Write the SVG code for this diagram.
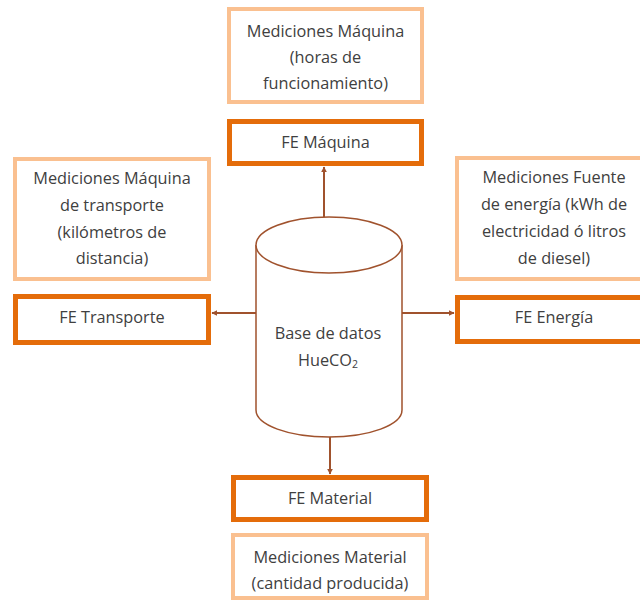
<svg xmlns="http://www.w3.org/2000/svg" width="640" height="601" viewBox="0 0 640 601">
<style>
.light{fill:#fff;stroke:#fac090;stroke-width:4}
.dark{fill:#fff;stroke:#e46c0a;stroke-width:5}
text{font-family:"Open Sans","Noto Sans",sans-serif;font-size:16.3px;fill:#404040;text-anchor:middle;dominant-baseline:central}
.conn{stroke:#a0522d;stroke-width:2;fill:none}
.cyl{fill:#fff;stroke:#a0522d;stroke-width:1.5}
</style>
<defs>
<marker id="arr" viewBox="0 0 10 10" refX="9" refY="5" markerWidth="6" markerHeight="6" orient="auto" markerUnits="userSpaceOnUse">
<path d="M0,0 L10,5 L0,10 z" fill="#a0522d"/>
</marker>
</defs>
<rect width="640" height="601" fill="#fff"/>
<g id="connectors">
<line class="conn" x1="324" y1="218" x2="324" y2="167" marker-end="url(#arr)"/>
<line class="conn" x1="256" y1="313" x2="212" y2="313" marker-end="url(#arr)"/>
<line class="conn" x1="402" y1="313" x2="454" y2="313" marker-end="url(#arr)"/>
<line class="conn" x1="330" y1="437" x2="330" y2="474" marker-end="url(#arr)"/>
</g>
<g id="med-maquina">
<rect class="light" x="229" y="9" width="193" height="93"/>
<text x="325.5" y="31">Mediciones Máquina</text>
<text x="325.5" y="57">(horas de</text>
<text x="325.5" y="83">funcionamiento)</text>
</g>
<g id="fe-maquina">
<rect class="dark" x="229.5" y="121.5" width="192" height="42"/>
<text x="325.5" y="142">FE Máquina</text>
</g>
<g id="med-transporte">
<rect class="light" x="15" y="159" width="194" height="120"/>
<text x="112" y="178">Mediciones Máquina</text>
<text x="112" y="205">de transporte</text>
<text x="112" y="232">(kilómetros de</text>
<text x="112" y="258">distancia)</text>
</g>
<g id="fe-transporte">
<rect class="dark" x="15.5" y="296.5" width="193" height="46"/>
<text x="112" y="317">FE Transporte</text>
</g>
<g id="med-energia">
<rect class="light" x="457" y="158" width="194" height="121"/>
<text x="554" y="177">Mediciones Fuente</text>
<text x="554" y="204">de energía (kWh de</text>
<text x="554" y="231">electricidad ó litros</text>
<text x="554" y="258">de diesel)</text>
</g>
<g id="fe-energia">
<rect class="dark" x="457.5" y="297.5" width="193" height="44"/>
<text x="554" y="317">FE Energía</text>
</g>
<g id="base-datos">
<path class="cyl" d="M256,245 L256,410 A73,27 0 0 0 402,410 L402,245 A73,28 0 0 0 256,245 Z"/>
<path class="cyl" d="M256,245 A73,28 0 0 0 402,245"/>
<text x="328" y="333">Base de datos</text>
<text x="328" y="360">HueCO<tspan font-size="10.5" dy="4">2</tspan></text>
</g>
<g id="fe-material">
<rect class="dark" x="233.5" y="477.5" width="193" height="42"/>
<text x="330" y="498">FE Material</text>
</g>
<g id="med-material">
<rect class="light" x="233" y="535" width="194" height="63"/>
<text x="330" y="557">Mediciones Material</text>
<text x="330" y="583">(cantidad producida)</text>
</g>
</svg>
